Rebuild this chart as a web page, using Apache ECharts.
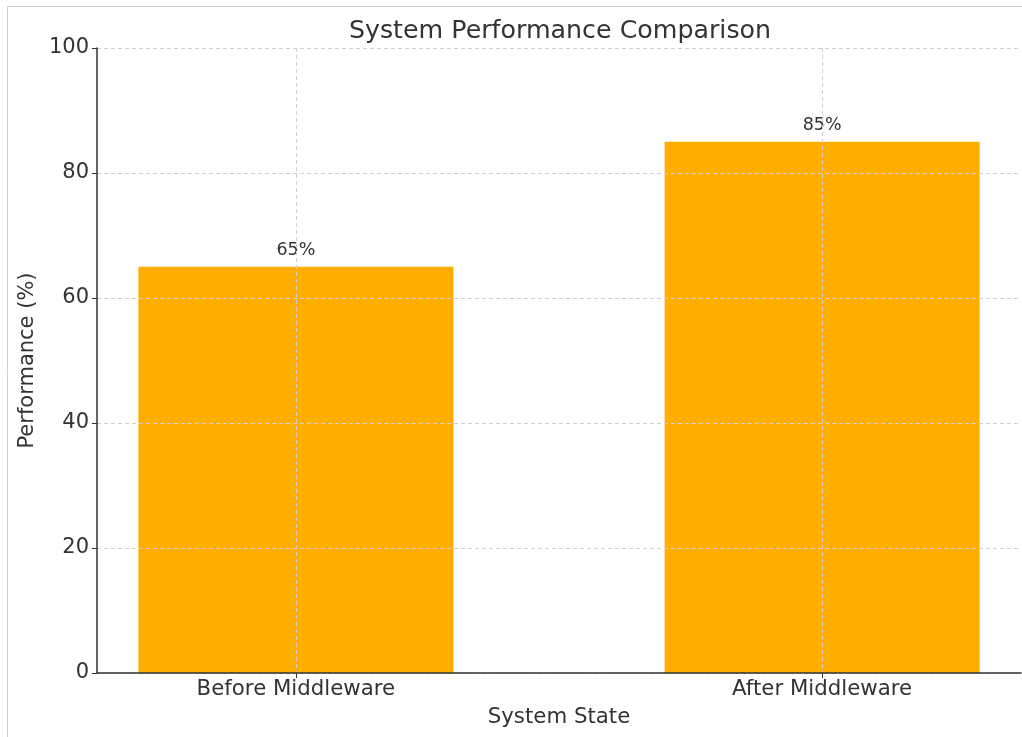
<!DOCTYPE html>
<html>
<head>
<meta charset="utf-8">
<script src="https://cdn.jsdelivr.net/npm/echarts@6/dist/echarts.min.js"></script>
<style>
  html, body { margin: 0; padding: 0; background: #fff; }
  #chart { width: 1022px; height: 737px; }
</style>
</head>
<body>
<div id="chart"></div>
<script>
// data
const categories = ['Before Middleware', 'After Middleware']
const performance = [65, 85]
const yTicks = [0, 20, 40, 60, 80, 100]

const chart = echarts.init(document.getElementById('chart'))
const font = 'DejaVu Sans'

chart.setOption({
  animation: false,
  textStyle: { fontFamily: font },
  title: {
    text: 'System Performance Comparison',
    left: 555,
    textAlign: 'center',
    top: 14,
    textStyle: { fontSize: 25.3, fontWeight: 'normal', color: '#333', fontFamily: font }
  },
  graphic: [
    {
      type: 'rect',
      shape: { x: 7.5, y: 6.5, width: 1040, height: 760 },
      style: { fill: 'none', stroke: '#cfcfcf', lineWidth: 1 },
      silent: true
    }
  ],
  grid: { left: 97, right: 1, top: 48, bottom: 64 },
  xAxis: {
    type: 'value',
    min: -0.378,
    max: 1.378,
    z: 5,
    name: 'System State',
    nameLocation: 'middle',
    nameGap: 34,
    nameTextStyle: { fontSize: 21.3, color: '#333', fontFamily: font },
    axisLine: { show: true, onZero: false, lineStyle: { color: '#333', width: 1.5 } },
    axisTick: { show: true, length: 5, customValues: categories.map((c, i) => i), lineStyle: { color: '#333' } },
    axisLabel: {
      customValues: categories.map((c, i) => i),
      formatter: v => categories[Math.round(v)],
      fontSize: 21.3,
      color: '#333',
      margin: 6
    },
    splitLine: { show: true, lineStyle: { type: [4, 3], color: '#cfcfcf', width: 1 } }
  },
  yAxis: {
    type: 'value',
    min: yTicks[0],
    max: yTicks[yTicks.length - 1],
    interval: 20,
    z: 5,
    name: 'Performance (%)',
    nameLocation: 'middle',
    nameGap: 49,
    nameTextStyle: { fontSize: 21, color: '#333', fontFamily: font },
    axisLine: { show: true, onZero: false, lineStyle: { color: '#333', width: 1.5 } },
    axisTick: { show: true, length: 5, lineStyle: { color: '#333' } },
    axisLabel: { fontSize: 21, color: '#333', margin: 8 },
    splitLine: { show: true, lineStyle: { type: [4, 3], color: '#cfcfcf', width: 1 } }
  },
  series: [
    {
      type: 'bar',
      data: performance.map((v, i) => [i, v]),
      barWidth: 315,
      itemStyle: { color: '#FFAE00' },
      label: {
        show: true,
        position: 'top',
        distance: 7,
        formatter: p => p.value[1] + '%',
        fontSize: 17.5,
        color: '#333'
      }
    }
  ]
})
</script>
</body>
</html>
